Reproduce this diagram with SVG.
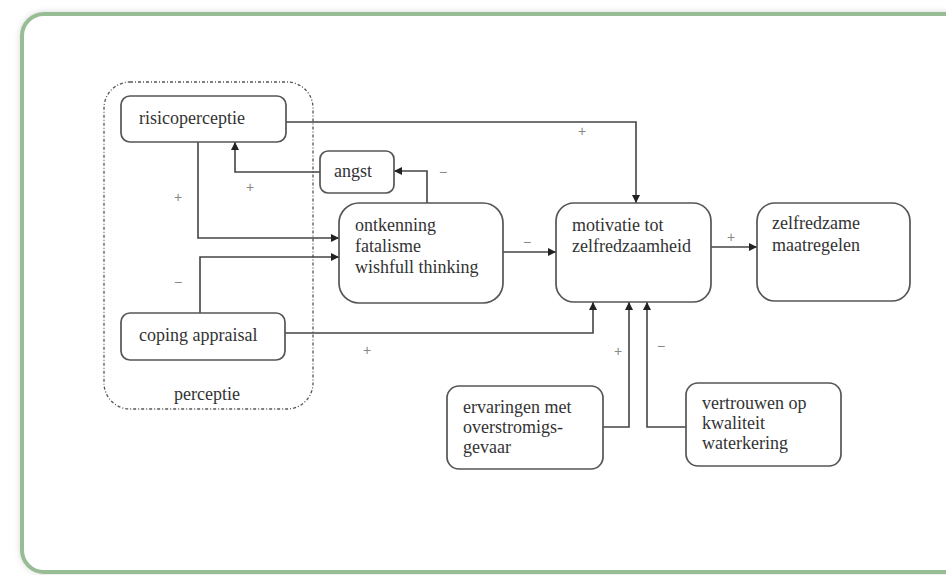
<svg xmlns="http://www.w3.org/2000/svg" width="946" height="575" viewBox="0 0 946 575">
<defs>
<filter id="sh" x="-5%" y="-5%" width="110%" height="110%">
<feGaussianBlur stdDeviation="4"/>
</filter>
<marker id="ah" viewBox="0 0 10 10" refX="10" refY="5" markerWidth="9" markerHeight="8" markerUnits="userSpaceOnUse" orient="auto">
<path d="M0,0 L10,5 L0,10 Z" fill="#222"/>
</marker>
</defs>
<style>
.box{fill:#fff;stroke:#555;stroke-width:1.7}
.t{font-family:'Liberation Serif','DejaVu Serif',serif;font-size:18px;fill:#333}
.c{fill:none;stroke:#444;stroke-width:1.6;marker-end:url(#ah)}
.s{font-family:'Liberation Sans',sans-serif;font-size:14px;fill:#888;text-anchor:middle}
</style>
<rect width="946" height="575" fill="#fff"/>
<rect x="22" y="14" width="960" height="558" rx="22" fill="#000" opacity="0.25" filter="url(#sh)"/>
<rect id="frame" x="22" y="14" width="960" height="558" rx="22" fill="#fff" stroke="#98bc94" stroke-width="4"/>

<g id="perceptie">
<rect x="104" y="82" width="209" height="327" rx="26" fill="none" stroke="#555" stroke-width="1.3" stroke-dasharray="3,2,1,2"/>
<text class="t" x="207" y="400" text-anchor="middle">perceptie</text>
</g>

<g id="connectors">
<polyline class="c" points="286,122 636,122 636,203"/>
<polyline class="c" points="320,172 235,172 235,142"/>
<polyline class="c" points="427,203 427,171 394,171"/>
<polyline class="c" points="198,142 198,238 339,238"/>
<polyline class="c" points="200,313 200,257 339,257"/>
<polyline class="c" points="503,252 556,252"/>
<polyline class="c" points="285,333 593,333 593,302"/>
<polyline class="c" points="603,427 629,427 629,302"/>
<polyline class="c" points="686,427 647,427 647,302"/>
<polyline class="c" points="711,247 757,247"/>
<text class="s" x="582" y="136">+</text>
<text class="s" x="250" y="192">+</text>
<text class="s" x="443" y="177">−</text>
<text class="s" x="178" y="202">+</text>
<text class="s" x="178" y="287">−</text>
<text class="s" x="527" y="247">−</text>
<text class="s" x="367" y="355">+</text>
<text class="s" x="618" y="356">+</text>
<text class="s" x="661" y="351">−</text>
<text class="s" x="731" y="242">+</text>
</g>

<g id="risicoperceptie">
<rect class="box" x="121" y="96" width="165" height="46" rx="9"/>
<text class="t" x="139" y="124">risicoperceptie</text>
</g>
<g id="angst">
<rect class="box" x="320" y="151" width="74" height="42" rx="8"/>
<text class="t" x="334" y="177">angst</text>
</g>
<g id="ontkenning">
<rect class="box" x="339" y="203" width="164" height="100" rx="20"/>
<text class="t" x="355" y="231">ontkenning</text>
<text class="t" x="355" y="252">fatalisme</text>
<text class="t" x="355" y="273">wishfull thinking</text>
</g>
<g id="motivatie">
<rect class="box" x="556" y="203" width="155" height="99" rx="18"/>
<text class="t" x="572" y="231">motivatie tot</text>
<text class="t" x="572" y="252">zelfredzaamheid</text>
</g>
<g id="zelfredzame">
<rect class="box" x="757" y="203" width="153" height="98" rx="18"/>
<text class="t" x="772" y="229">zelfredzame</text>
<text class="t" x="772" y="251">maatregelen</text>
</g>
<g id="coping">
<rect class="box" x="121" y="313" width="164" height="47" rx="9"/>
<text class="t" x="139" y="341">coping appraisal</text>
</g>
<g id="ervaringen">
<rect class="box" x="447" y="386" width="156" height="83" rx="12"/>
<text class="t" x="463" y="413">ervaringen met</text>
<text class="t" x="463" y="433">overstromigs-</text>
<text class="t" x="463" y="453">gevaar</text>
</g>
<g id="vertrouwen">
<rect class="box" x="686" y="383" width="155" height="83" rx="12"/>
<text class="t" x="702" y="409">vertrouwen op</text>
<text class="t" x="702" y="429">kwaliteit</text>
<text class="t" x="702" y="449">waterkering</text>
</g>
</svg>
